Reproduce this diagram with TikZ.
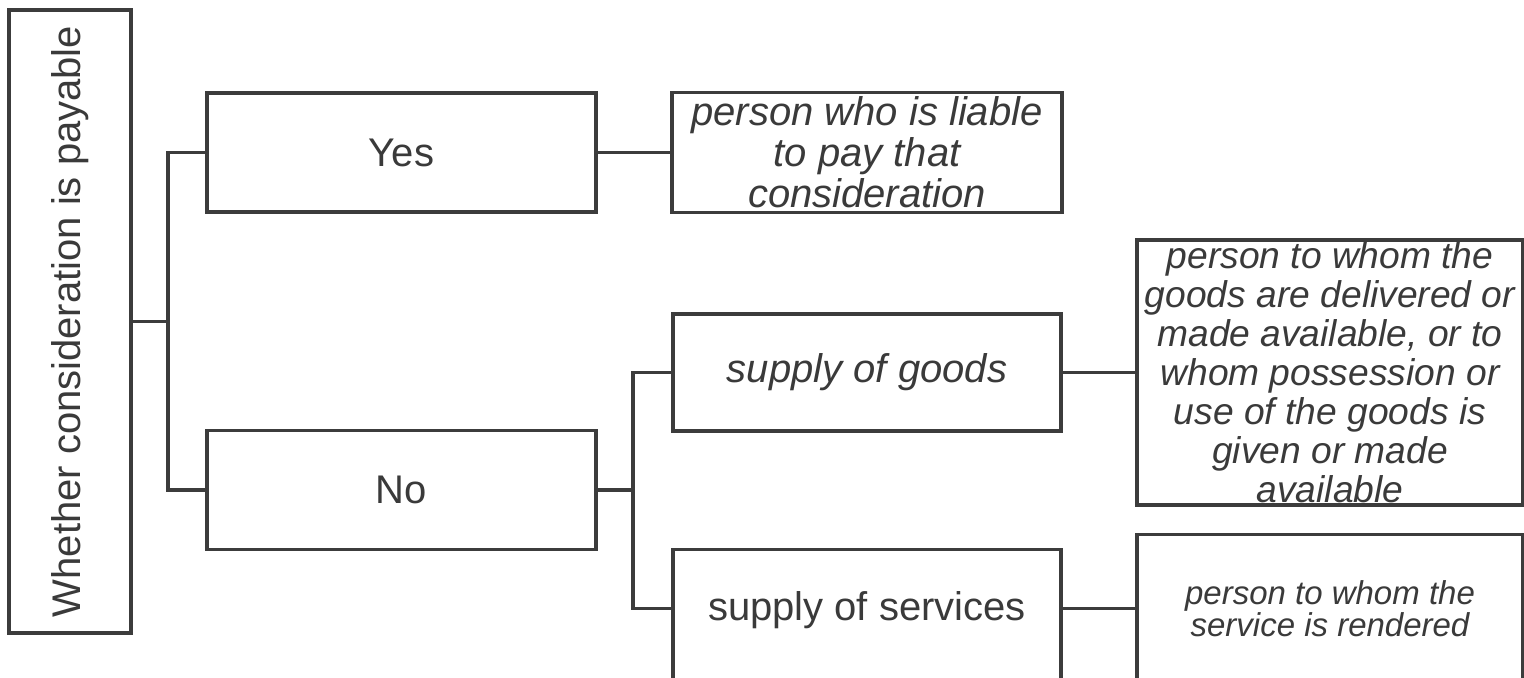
\documentclass[tikz,border=0pt]{standalone}
\usepackage{fontspec}
\setmainfont{Liberation Sans}
\definecolor{linegray}{HTML}{3C3C3C}
\definecolor{textgray}{HTML}{3A3A3A}
\tikzset{
	box/.style = {draw = linegray, line width = 1.7 pt, text = textgray, inner sep = 0 pt,
		font = \fontsize{20}{20.5}\selectfont, minimum width = 194.5 pt, minimum height = 59.5 pt},
	answer/.style = {box, align = center, font = \fontsize{20}{20.5}\selectfont\itshape},
	link/.style = {draw = linegray, line width = 1.7 pt}
}

\begin{document}
\begin{tikzpicture}[x = 0.5 pt, y = -0.5 pt]

	% Page
	
	\fill [white] (0, 0) rectangle (1524, 678);
	\useasboundingbox (0, 0) rectangle (1524, 678);

	% Question
	
	\node [box, rotate = 90, minimum width = 311.5 pt, minimum height = 61 pt] (whether) at (70, 321.5) {Whether consideration is payable};
	
	% Answers
	
	\node [box] (yes) at (401.5, 152.5) {Yes};
	\node [box] (no) at (401.5, 490) {No};
	
	% Kinds of supply
	
	\node [box, font = \fontsize{20}{20.5}\selectfont\itshape, minimum width = 194 pt, minimum height = 58.5 pt] (goods) at (867, 372.5) {supply of goods};
	\node [box, anchor = north, minimum width = 194 pt, minimum height = 0 pt, text height = 35.5 pt, text depth = 40 pt] (services) at (867, 548) {supply of services};
	
	% Recipients
	
	\node [answer, minimum width = 195 pt, minimum height = 60 pt] (liable) at (867, 152.5) {person who is liable\\to pay that\\consideration};
	\node [answer, font = \fontsize{18.6}{19.5}\selectfont\itshape, minimum width = 193 pt, minimum height = 132.5 pt] (goodswho) at (1330, 372.5)
		{person to whom the\\goods are delivered or\\made available, or to\\whom possession or\\use of the goods is\\given or made\\available};
	\node [answer, font = \fontsize{16.5}{16}\selectfont\itshape, anchor = north, minimum width = 193 pt, minimum height = 74 pt] (svcwho) at (1330, 533) {person to whom the\\service is rendered};
	
	% Links
	
	\coordinate (fork1) at (168, 321.5);
	\coordinate (fork2) at (633, 490);
	
	\draw [link] (whether.south) -- (fork1);
	\draw [link] (yes.west) -| (fork1);
	\draw [link] (no.west) -| (fork1);
	\draw [link] (yes.east) -- (liable.west);
	\draw [link] (no.east) -- (fork2);
	\draw [link] (goods.west) -| (fork2);
	\draw [link] ([yshift = 6 pt]services.base west) -| (fork2);
	\draw [link] (goods.east) -- (goodswho.west);
	\draw [link] ([yshift = 6 pt]services.base east) -- ([yshift = 6 pt]services.base east -| svcwho.west);

\end{tikzpicture}
\end{document}
